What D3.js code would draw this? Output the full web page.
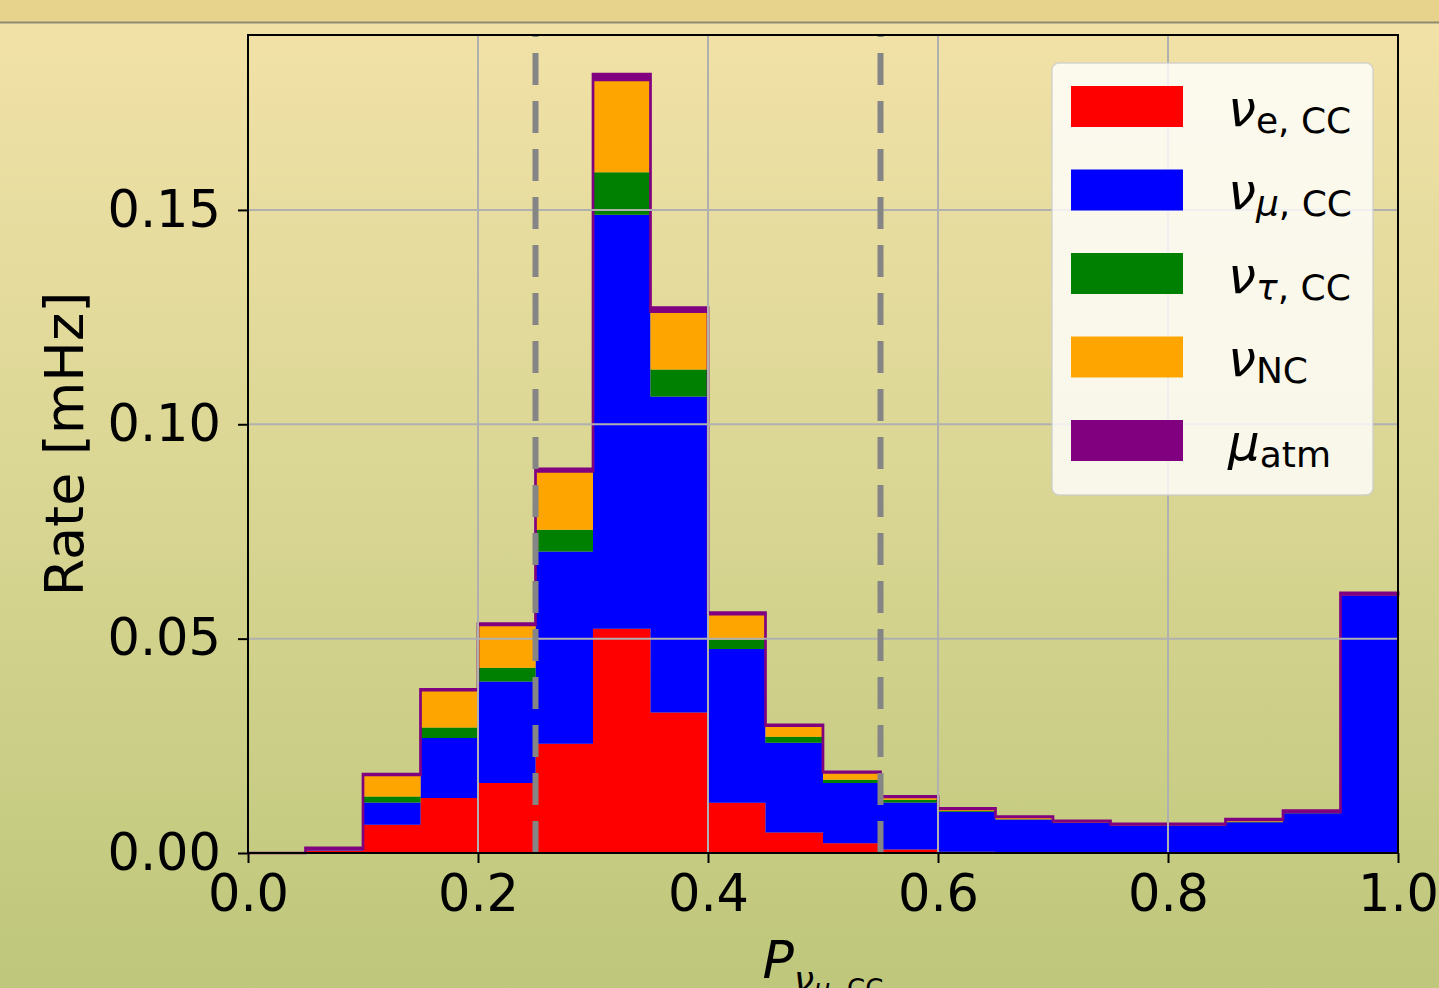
<!DOCTYPE html>
<html>
<head>
<meta charset="utf-8">
<title>Rate vs P numu CC</title>
<script src="https://d3js.org/d3.v7.min.js"></script>
<style>
  body { margin: 0; font-family: 'DejaVu Sans', sans-serif; }
  svg { display: block; }
</style>
</head>
<body>
<div id="chart"></div>
<script>
// left edge of every histogram bin (width 0.05)
var binLo = [0.00, 0.05, 0.10, 0.15, 0.20, 0.25, 0.30, 0.35, 0.40, 0.45,
             0.50, 0.55, 0.60, 0.65, 0.70, 0.75, 0.80, 0.85, 0.90, 0.95];
var binWidth = 0.05;

// per-component rates [mHz]
var nueCC   = [0, 0.0006, 0.0066, 0.0128, 0.0163, 0.0255, 0.0523, 0.0328, 0.0117, 0.0048,
               0.0023, 0.0008, 0.0003, 0.0002, 0.0001, 0.0001, 0.0001, 0.0001, 0.0001, 0.0000];
var numuCC  = [0, 0.0002, 0.0052, 0.0140, 0.0237, 0.0448, 0.0966, 0.0737, 0.0359, 0.0209,
               0.0140, 0.0110, 0.0093, 0.0076, 0.0069, 0.0063, 0.0063, 0.0071, 0.0092, 0.0601];
var nutauCC = [0, 0.0000, 0.0014, 0.0025, 0.0032, 0.0051, 0.0099, 0.0063, 0.0022, 0.0014,
               0.0008, 0.0006, 0.0002, 0.0001, 0.0001, 0.0001, 0.0001, 0.0001, 0.0001, 0.0000];
var nuNC    = [0, 0.0002, 0.0050, 0.0087, 0.0100, 0.0136, 0.0215, 0.0135, 0.0059, 0.0026,
               0.0017, 0.0007, 0.0005, 0.0005, 0.0003, 0.0002, 0.0002, 0.0004, 0.0002, 0.0002];
var muAtm   = [0, 0.0002, 0.0002, 0.0002, 0.0003, 0.0006, 0.0014, 0.0009, 0.0004, 0.0002,
               0.0001, 0.0001, 0.0001, 0.0001, 0.0001, 0.0001, 0.0001, 0.0002, 0.0003, 0.0004];

var seriesKeys = ["nue", "numu", "nutau", "nc", "atm"];
var seriesColors = ["red", "blue", "green", "orange", "purple"];

var xTicks = [0.0, 0.2, 0.4, 0.6, 0.8, 1.0];
var yTicks = [0.00, 0.05, 0.10, 0.15];
var cutValues = [0.25, 0.55];

var W = 1439, H = 988;
var plotL = 248, plotR = 1398, plotT = 35, plotB = 853;

var svg = d3.select("#chart").append("svg")
    .attr("width", W)
    .attr("height", H);

// page background (gradient + strip at top)
var defs = svg.append("defs");
var grad = defs.append("linearGradient")
    .attr("id", "bg").attr("x1", 0).attr("y1", 0).attr("x2", 0).attr("y2", 1);
grad.append("stop").attr("offset", "0%").attr("stop-color", "#f3e2a9");
grad.append("stop").attr("offset", "50%").attr("stop-color", "#d9d693");
grad.append("stop").attr("offset", "100%").attr("stop-color", "#bec77b");

svg.append("rect").attr("width", W).attr("height", H).attr("fill", "url(#bg)");
svg.append("rect").attr("width", W).attr("height", 22).attr("fill", "#e8d38c");
svg.append("line").attr("x1", 0).attr("x2", W).attr("y1", 22.5).attr("y2", 22.5)
    .attr("stroke", "#8f8a72").attr("stroke-width", 2);

var x = d3.scaleLinear().domain([0, 1]).range([plotL, plotR]);
var y = d3.scaleLinear().domain([0, 0.1908]).range([plotB, plotT]);

// rows for the stack, plus a closing row at x = 1.0 for the step curve
var rows = binLo.map(function(b, i) {
    return {x: b, nue: nueCC[i], numu: numuCC[i], nutau: nutauCC[i], nc: nuNC[i], atm: muAtm[i]};
});
var last = rows[rows.length - 1];
rows.push(Object.assign({}, last, {x: last.x + binWidth}));

var stacked = d3.stack().keys(seriesKeys)(rows);

var area = d3.area()
    .curve(d3.curveStepAfter)
    .x(function(d) { return x(d.data.x); })
    .y0(function(d) { return y(d[0]); })
    .y1(function(d) { return y(d[1]); });

svg.append("g").selectAll("path")
    .data(stacked)
    .enter().append("path")
    .attr("d", area)
    .attr("fill", function(d, i) { return seriesColors[i]; })
    .attr("stroke", function(d) { return d.key === "atm" ? "purple" : "none"; })
    .attr("stroke-width", 2.7);

// grid (drawn over the bars, like the original)
var grid = svg.append("g").attr("stroke", "#b0b0b0").attr("stroke-width", 2);
grid.selectAll(".gx").data(xTicks).enter().append("line")
    .attr("x1", function(d) { return x(d); }).attr("x2", function(d) { return x(d); })
    .attr("y1", plotB).attr("y2", plotT);
grid.selectAll(".gy").data(yTicks).enter().append("line")
    .attr("x1", plotL).attr("x2", plotR)
    .attr("y1", function(d) { return y(d); }).attr("y2", function(d) { return y(d); });

// selection cut lines
svg.append("g").selectAll("line")
    .data(cutValues)
    .enter().append("line")
    .attr("x1", function(d) { return x(d); }).attr("x2", function(d) { return x(d); })
    .attr("y1", plotB).attr("y2", plotT)
    .attr("stroke", "#858585")
    .attr("stroke-width", 6)
    .attr("stroke-dasharray", "32,16");

// axes
var xAxis = svg.append("g")
    .attr("transform", "translate(0," + plotB + ")")
    .call(d3.axisBottom(x).tickValues(xTicks).tickFormat(d3.format(".1f")).tickSize(10).tickPadding(12));
var yAxis = svg.append("g")
    .attr("transform", "translate(" + plotL + ",0)")
    .call(d3.axisLeft(y).tickValues(yTicks).tickFormat(d3.format(".2f")).tickSize(10).tickPadding(17));

[xAxis, yAxis].forEach(function(a) {
    a.select(".domain").remove();
    a.attr("font-family", "DejaVu Sans").attr("font-size", 51);
    a.selectAll("line").attr("stroke", "black").attr("stroke-width", 2);
    a.selectAll("text").attr("fill", "black");
});

// spines
svg.append("rect")
    .attr("x", plotL).attr("y", plotT)
    .attr("width", plotR - plotL).attr("height", plotB - plotT)
    .attr("fill", "none").attr("stroke", "black").attr("stroke-width", 2);

// axis labels
svg.append("text")
    .attr("transform", "translate(83," + ((plotT + plotB) / 2) + ") rotate(-90)")
    .attr("text-anchor", "middle")
    .attr("font-size", 54)
    .text("Rate [mHz]");

var xl = svg.append("text")
    .attr("x", (plotL + plotR) / 2)
    .attr("y", 978)
    .attr("text-anchor", "middle")
    .attr("font-size", 52);
xl.append("tspan").attr("font-style", "italic").text("P");
xl.append("tspan").attr("font-style", "italic").attr("font-size", 36).attr("dy", 14).text("ν");
xl.append("tspan").attr("font-style", "italic").attr("font-size", 26).attr("dy", 6).text("μ");
xl.append("tspan").attr("font-size", 26).text(", CC");

// legend
var legendItems = [
    {base: "ν", sub: "e", subItalic: false, rest: ", CC"},
    {base: "ν", sub: "μ", subItalic: true, rest: ", CC"},
    {base: "ν", sub: "τ", subItalic: true, rest: ", CC"},
    {base: "ν", sub: "NC", subItalic: false, rest: ""},
    {base: "μ", sub: "atm", subItalic: false, rest: ""}
];

var lg = svg.append("g");
lg.append("rect")
    .attr("x", 1052).attr("y", 63)
    .attr("width", 321).attr("height", 432)
    .attr("rx", 7)
    .attr("fill", "white").attr("fill-opacity", 0.8)
    .attr("stroke", "#cccccc").attr("stroke-opacity", 0.8).attr("stroke-width", 1.5);

legendItems.forEach(function(it, i) {
    var cy = 106.5 + i * 83.5;
    lg.append("rect")
        .attr("x", 1071).attr("y", cy - 20.5)
        .attr("width", 112).attr("height", 41)
        .attr("fill", seriesColors[i]);
    var t = lg.append("text")
        .attr("x", 1228).attr("y", cy + 19)
        .attr("font-size", 50);
    t.append("tspan").attr("font-style", "italic").text(it.base);
    t.append("tspan")
        .attr("font-size", 36).attr("dy", 7)
        .attr("font-style", it.subItalic ? "italic" : "normal")
        .text(it.sub);
    if (it.rest) t.append("tspan").attr("font-size", 36).text(it.rest);
});
</script>
</body>
</html>
